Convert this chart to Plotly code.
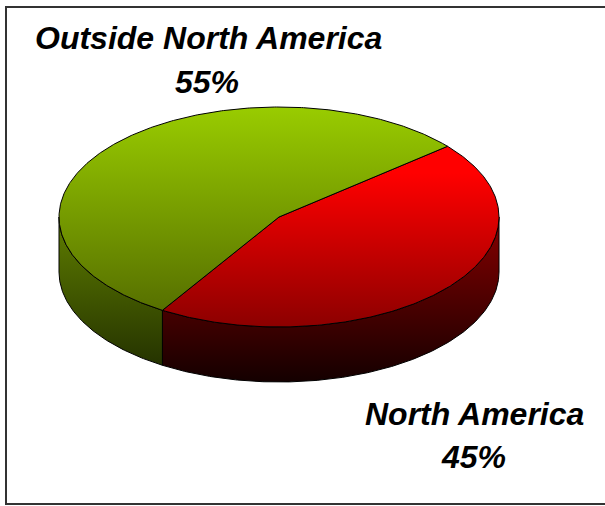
import numpy as np
import plotly.graph_objects as go

# Revenue split shown by the pie
regions = ["North America", "Outside North America"]
shares = [45, 55]
slice_colors = {
    "North America": {"top": ["#ff0000", "#ff0000", "#8c0000"], "side": ["#800000", "#140000"]},
    "Outside North America": {"top": ["#99cc00", "#566f00"], "side": ["#5c7a00", "#1e2a00"]},
}

WIDTH, HEIGHT = 605, 506
CX, CY, RX, RY, DEPTH = 279, 217, 220, 110, 55
FIRST_EDGE_DEG = 40.0  # where the first slice starts, running clockwise


def rim(a_deg, b_deg, dy=0.0):
    """Points along the ellipse rim between two parametric angles."""
    count = max(2, int(abs(b_deg - a_deg)) * 2)
    t = np.radians(np.linspace(a_deg, b_deg, count))
    return CX + RX * np.cos(t), CY - RY * np.sin(t) + dy


def scale(colors, positions=None):
    positions = positions or np.linspace(0, 1, len(colors))
    return [[float(p), c] for p, c in zip(positions, colors)]


fig = go.Figure()

# Slice boundaries in degrees, derived from the shares
edges = [FIRST_EDGE_DEG]
for share in shares:
    edges.append(edges[-1] - share * 3.6)

# Side walls first: only the front half of the rim (angles -180..0) is visible
for i, region in enumerate(regions):
    hi, lo = edges[i], edges[i + 1]
    a, b = min(hi, 0.0), max(lo, -180.0)
    x1, y1 = rim(a, b)
    x2, y2 = rim(b, a, DEPTH)
    fig.add_trace(go.Scatter(
        x=np.r_[x1, x2, x1[0]], y=np.r_[y1, y2, y1[0]],
        mode="lines", line=dict(color="black", width=1),
        fill="toself", fillcolor="rgba(0,0,0,0)",
        fillgradient=dict(type="vertical", start=CY + 10, stop=CY + RY + DEPTH,
                          colorscale=scale(slice_colors[region]["side"])),
        hoverinfo="skip", showlegend=False,
    ))

# Top faces of the slices
top_positions = {"North America": [0, 0.3, 1], "Outside North America": [0, 1]}
top_stops = {"North America": (CY - RY, CY + RY), "Outside North America": (CY - RY, CY + 95)}
for i, region in enumerate(regions):
    x, y = rim(edges[i], edges[i + 1])
    fig.add_trace(go.Scatter(
        x=np.r_[CX, x, CX], y=np.r_[CY, y, CY],
        mode="lines", line=dict(color="black", width=1),
        fill="toself", fillcolor="rgba(0,0,0,0)",
        fillgradient=dict(type="vertical", start=top_stops[region][0], stop=top_stops[region][1],
                          colorscale=scale(slice_colors[region]["top"], top_positions[region])),
        hoverinfo="skip", showlegend=False,
    ))

# Slice captions
label_font = dict(family="Liberation Sans", size=32, color="black", weight="bold", style="italic")
caption_spots = {"North America": (474, 414, 473, 457), "Outside North America": (208, 38, 207, 82)}
for region, share in zip(regions, shares):
    nx, ny, px, py = caption_spots[region]
    fig.add_annotation(x=nx, y=ny, text=region, showarrow=False, font=label_font)
    fig.add_annotation(x=px, y=py, text=f"{share}%", showarrow=False, font=label_font)

fig.update_layout(
    width=WIDTH, height=HEIGHT, margin=dict(l=0, r=0, t=0, b=0),
    paper_bgcolor="white", plot_bgcolor="white", showlegend=False,
    xaxis=dict(range=[0, WIDTH], visible=False, fixedrange=True),
    yaxis=dict(range=[HEIGHT, 0], visible=False, fixedrange=True),
    shapes=[dict(type="rect", xref="x", yref="y", x0=6, y0=7, x1=WIDTH + 10, y1=504,
                 line=dict(color="#333333", width=2), layer="below")],
)

fig.write_html("out.html", config={"displayModeBar": False})
